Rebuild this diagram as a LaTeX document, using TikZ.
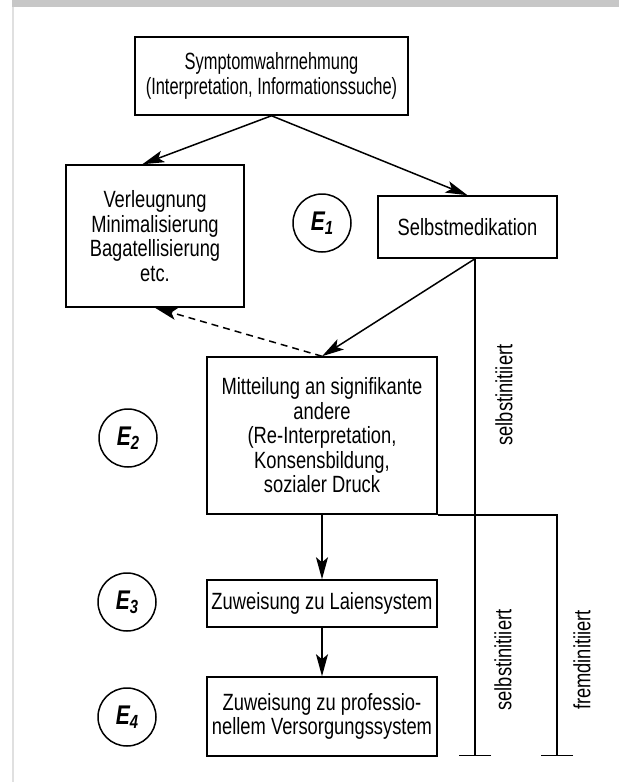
\documentclass[tikz,border=0pt]{standalone}
\usepackage{fontspec}
\setmainfont[FakeStretch=0.78]{Liberation Sans}
\newfontfamily\narrowfont[FakeStretch=0.70]{Liberation Sans}
\usetikzlibrary{arrows.meta}

\begin{document}
\begin{tikzpicture}[x=1pt,y=-1pt,
		box/.style={rectangle,draw=black,line width=1.5pt,align=center,inner sep=0pt},
		estage/.style={circle,draw=black,line width=1.5pt,minimum size=58pt,inner sep=0pt,font=\fontsize{27}{27}\selectfont\bfseries\itshape},
		conn/.style={line width=1.5pt,-{Stealth[length=22pt,width=12pt,inset=5pt]}},
		tee/.style={line width=1.5pt,-{Bar[width=32pt,line width=1.5pt]}}]
	\fontsize{23.5}{24.5}\selectfont
	\useasboundingbox (0,0) rectangle (619,782);
	\fill[black!22] (12,0) rectangle (619,7);
	\draw[black!12,line width=2pt] (13,7) -- (13,782);

	\node[box,minimum width=273pt,minimum height=78pt,font=\narrowfont] (top) at (271.5,76) {Symptomwahrnehmung\\(Interpretation, Informationssuche)};
	\node[box,minimum width=178pt,minimum height=142pt] (verl) at (155,236) {Verleugnung\\Minimalisierung\\Bagatellisierung\\etc.};
	\node[box,minimum width=179pt,minimum height=62pt] (selbst) at (467.5,227) {Selbstmedikation};
	\node[box,minimum width=230pt,minimum height=157pt] (mitt) at (322,435.5) {Mitteilung an signifikante\\andere\\(Re-Interpretation,\\Konsensbildung,\\sozialer Druck};
	\node[box,minimum width=230pt,minimum height=47pt] (laien) at (322,603.5) {Zuweisung zu Laiensystem};
	\node[box,minimum width=230pt,minimum height=79pt] (prof) at (322,716.5) {Zuweisung zu professio-\\nellem Versorgungssystem};

	\node[estage] (e1) at (322,223) {E\raisebox{-4pt}{\fontsize{19}{19}\selectfont 1}};
	\node[estage] (e2) at (128,438) {E\raisebox{-4pt}{\fontsize{19}{19}\selectfont 2}};
	\node[estage] (e3) at (127,602) {E\raisebox{-4pt}{\fontsize{19}{19}\selectfont 3}};
	\node[estage] (e4) at (127,717) {E\raisebox{-4pt}{\fontsize{19}{19}\selectfont 4}};

	\coordinate (selbstend) at (475,756);
	\coordinate (fremdend) at (557,756);

	\draw[conn] (top.south) -- (verl.100);
	\draw[conn] (top.south) -- (selbst.north);
	\draw[conn] (selbst.south -| selbstend) -- (mitt.north);
	\draw[conn,dash pattern=on 7pt off 5pt] (mitt.north) -- (verl.south);
	\draw[conn] (mitt.south) -- (laien.north);
	\draw[conn] (laien.south) -- (prof.north);
	\draw[tee] (selbst.south -| selbstend) -- (selbstend);
	\draw[tee] (mitt.south east) -- (fremdend |- mitt.south east) -- (fremdend);

	\node[rotate=90] (lab1) at (504,395) {selbstinitiiert};
	\node[rotate=90] (lab2) at (503,660) {selbstinitiiert};
	\node[rotate=90] (lab3) at (582,660) {fremdinitiiert};
\end{tikzpicture}
\end{document}
